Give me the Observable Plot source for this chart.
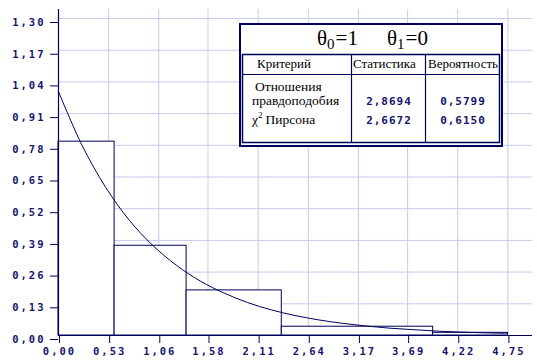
<!DOCTYPE html>
<html>
<head>
<meta charset="utf-8">
<script src="https://cdn.jsdelivr.net/npm/d3@7"></script>
<script src="https://cdn.jsdelivr.net/npm/@observablehq/plot@0.6"></script>
<style>
  html, body { margin: 0; padding: 0; background: white; }
  #chart { position: relative; width: 537px; height: 360px; }
  g[aria-label="x-axis tick label"] text,
  g[aria-label="y-axis tick label"] text { letter-spacing: 2px; }
</style>
</head>
<body>
<div id="chart"></div>
<script>
// ---- data ----
const xTicks = [0, 0.53, 1.06, 1.58, 2.11, 2.64, 3.17, 3.69, 4.22, 4.75];
const yTicks = [0, 0.13, 0.26, 0.39, 0.52, 0.65, 0.78, 0.91, 1.04, 1.17, 1.30];

// histogram (irregular bins)
const binLeft  = [0, 0.593, 1.354, 2.36, 3.96];
const binRight = [0.593, 1.354, 2.36, 3.96, 4.75];
const binHeight = [0.795, 0.368, 0.185, 0.036, 0.011];

// theoretical density curve
const curveX = [0, 0.25, 0.5, 0.75, 1.0, 1.25, 1.5, 1.75, 2.0, 2.25, 2.5, 2.75, 3.0, 3.25, 3.5, 3.75, 4.0, 4.25, 4.5, 4.75];
const curveY = [1.0, 0.779, 0.607, 0.472, 0.368, 0.287, 0.223, 0.174, 0.135, 0.105, 0.082, 0.064, 0.050, 0.039, 0.030, 0.024, 0.018, 0.014, 0.011, 0.009];

// table
const titleParts = [["θ", "0", "=1"], ["θ", "1", "=0"]];
const tableHeaders = ["Критерий", "Статистика", "Вероятность"];
const rowLabel1 = ["Отношения", "правдоподобия"];
const rowLabel2 = ["χ", "2", "Пирсона"];
const statistics = ["2,8694", "2,6672"];
const probabilities = ["0,5799", "0,6150"];

// ---- build ----
const bins = binLeft.map((x1, i) => ({x1, x2: binRight[i], h: binHeight[i]}));
const curve = curveX.map((x, i) => ({x, y: curveY[i]}));
const fmt = d => d.toFixed(2).replace(".", ",");

const navy = "#00005e";
const labelColor = "#141470";
const gridColor = "#c9c9ea";
const axisFont = "DejaVu Sans Mono";

const plot = Plot.plot({
  width: 537,
  height: 360,
  marginLeft: 58,
  marginRight: 5,
  marginTop: 9,
  marginBottom: 25,
  x: {domain: [0, 5.01]},
  y: {domain: [0, 1.337]},
  style: {background: "white", overflow: "visible"},
  marks: [
    Plot.gridX(xTicks, {stroke: gridColor, strokeOpacity: 1}),
    Plot.gridY(yTicks, {stroke: gridColor, strokeOpacity: 1}),
    Plot.rect(bins, {x1: "x1", x2: "x2", y1: 0, y2: "h", fill: "white", stroke: navy, strokeWidth: 1}),
    Plot.line(curve, {x: "x", y: "y", stroke: navy, strokeWidth: 1, curve: "catmull-rom"}),
    Plot.ruleX([0], {stroke: navy, strokeWidth: 1.2}),
    Plot.ruleY([0], {stroke: navy, strokeWidth: 1.2}),
    Plot.axisX(xTicks, {
      tickSize: 8, tickPadding: 4, tickFormat: fmt, color: labelColor, stroke: navy,
      fontSize: 10.5, fontWeight: "bold", fontFamily: axisFont, dx: 1
    }),
    Plot.axisY(yTicks, {
      tickSize: 8, tickPadding: 5, tickFormat: fmt, color: labelColor, stroke: navy,
      fontSize: 10.5, fontWeight: "bold", fontFamily: axisFont, dy: 4
    })
  ]
});

document.getElementById("chart").appendChild(plot);

// ---- table overlay ----
const svg = d3.select(plot);
const serif = "Liberation Serif";
const g = svg.append("g").attr("class", "stat-table")
  .attr("text-anchor", "start").attr("font-family", serif).attr("fill", "black");

g.append("rect").attr("x", 240).attr("y", 24).attr("width", 262).attr("height", 122)
  .attr("fill", "white").attr("stroke", navy).attr("stroke-width", 2);
g.append("rect").attr("x", 242.5).attr("y", 54.5).attr("width", 257).attr("height", 88)
  .attr("fill", "none").attr("stroke", navy).attr("stroke-width", 1.5);
g.append("line").attr("x1", 242.5).attr("x2", 499.5).attr("y1", 74.5).attr("y2", 74.5)
  .attr("stroke", navy).attr("stroke-width", 1.2);
[351.5, 425.5].forEach(x => g.append("line").attr("x1", x).attr("x2", x).attr("y1", 54.5).attr("y2", 142.5)
  .attr("stroke", navy).attr("stroke-width", 1.2));

// title
[317, 387].forEach((x, i) => {
  const t = g.append("text").attr("x", x).attr("y", 45).attr("text-anchor", "start")
    .attr("font-family", serif).attr("font-size", 21).attr("fill", "black");
  t.append("tspan").text(titleParts[i][0]);
  t.append("tspan").attr("dy", 4).attr("font-size", 15).text(titleParts[i][1]);
  t.append("tspan").attr("dy", -4).attr("dx", 1).text(titleParts[i][2]);
});

// headers
[257, 353, 428].forEach((x, i) => {
  g.append("text").attr("x", x).attr("y", 68).attr("text-anchor", "start")
    .attr("font-family", serif).attr("font-size", 13)
    .attr("fill", "black").text(tableHeaders[i]);
});

// row labels
g.append("text").attr("x", 255).attr("y", 91).attr("text-anchor", "start").attr("font-family", serif).attr("font-size", 13.5).text(rowLabel1[0]);
g.append("text").attr("x", 252).attr("y", 105).attr("text-anchor", "start").attr("font-family", serif).attr("font-size", 13.5).text(rowLabel1[1]);
const chi = g.append("text").attr("x", 252).attr("y", 124).attr("text-anchor", "start").attr("font-family", serif).attr("font-size", 13.5);
chi.append("tspan").text(rowLabel2[0]);
chi.append("tspan").attr("dy", -6).attr("font-size", 9).text(rowLabel2[1]);
chi.append("tspan").attr("dy", 6).attr("dx", 3).text(rowLabel2[2]);

// numbers
[105, 124].forEach((y, i) => {
  g.append("text").attr("x", 389).attr("y", y).attr("text-anchor", "middle")
    .attr("font-family", axisFont).attr("font-weight", "bold").attr("font-size", 11)
    .attr("letter-spacing", 1).attr("fill", labelColor).text(statistics[i]);
  g.append("text").attr("x", 463).attr("y", y).attr("text-anchor", "middle")
    .attr("font-family", axisFont).attr("font-weight", "bold").attr("font-size", 11)
    .attr("letter-spacing", 1).attr("fill", labelColor).text(probabilities[i]);
});
</script>
</body>
</html>
